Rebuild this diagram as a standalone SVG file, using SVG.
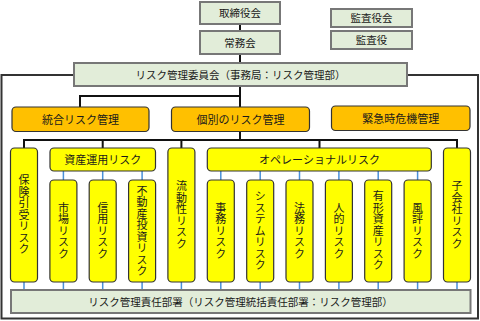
<svg xmlns="http://www.w3.org/2000/svg" width="480" height="321" viewBox="0 0 480 321">
<style>
text{font-family:"Noto Sans CJK JP","Noto Sans",sans-serif;fill:#1a1a1a;}
.g{fill:#e2edd9;stroke:#777;stroke-width:2;}
.o{fill:#ffc000;stroke:#333;stroke-width:1.2;}
.y{fill:#ffff00;stroke:#333;stroke-width:1.2;}
.t{font-size:10.5px;text-anchor:middle;}
.h{font-size:11px;text-anchor:middle;}
.v{font-size:11px;text-anchor:middle;writing-mode:vertical-rl;letter-spacing:0.5px;}
.k{stroke:#111;stroke-width:2;fill:none;}
.b{stroke:#4a90d9;stroke-width:1.5;fill:none;}
</style>
<rect x="1.5" y="75" width="476.5" height="243.5" fill="#fff" stroke="#333" stroke-width="2"/>
<g id="connectors">
<path class="k" d="M240 24V31M240 54V63M240 86V107M80 107V96H240M240 132V140M24 148V140H457V148M102.7 140V148M181.4 140V148M319.5 140V148"/>
<path class="b" d="M63.4 171V180M102.7 171V180M142.1 171V180M220.8 171V180M260.2 171V180M299.5 171V180M338.9 171V180M378.2 171V180M417.6 171V180"/>
<path class="b" d="M24 282V290M63.4 282V290M102.7 282V290M142.1 282V290M181.4 282V290M220.8 282V290M260.2 282V290M299.5 282V290M338.9 282V290M378.2 282V290M417.6 282V290M457 282V290"/>
</g>
<g id="torishimariyakukai"><rect class="g" x="200" y="2" width="80" height="22"/><text class="t" x="240" y="17">取締役会</text></g>
<g id="joumukai"><rect class="g" x="200" y="31" width="80" height="23"/><text class="t" x="240" y="46.5">常務会</text></g>
<g id="kansayakukai"><rect class="g" x="331" y="9" width="81" height="18"/><text class="t" x="371.5" y="22">監査役会</text></g>
<g id="kansayaku"><rect class="g" x="331" y="31" width="81" height="18"/><text class="t" x="371.5" y="44">監査役</text></g>
<g id="committee"><rect class="g" x="74" y="63" width="333" height="23"/><text class="t" x="240.5" y="78.5">リスク管理委員会（事務局：リスク管理部）</text></g>
<g id="tougou"><rect class="o" x="12" y="107" width="137" height="24.5" rx="4"/><text class="h" x="80.5" y="123.5">統合リスク管理</text></g>
<g id="kobetsu"><rect class="o" x="171.5" y="107" width="138" height="24.5" rx="4"/><text class="h" x="240.5" y="123.5">個別のリスク管理</text></g>
<g id="kinkyu"><rect class="o" x="331.5" y="106" width="138.5" height="24.5" rx="4"/><text class="h" x="400.7" y="122.5">緊急時危機管理</text></g>
<g id="hoken"><rect class="y" x="10.5" y="148" width="27" height="134" rx="4"/><text class="v" x="24" y="215">保険引受リスク</text></g>
<g id="shisan"><rect class="y" x="50" y="148" width="105.5" height="23" rx="4"/><text class="h" x="102.7" y="163.5">資産運用リスク</text></g>
<g id="shijou"><rect class="y" x="49.9" y="180" width="27" height="102" rx="4"/><text class="v" x="63.4" y="231">市場リスク</text></g>
<g id="shinyou"><rect class="y" x="89.2" y="180" width="27" height="102" rx="4"/><text class="v" x="102.7" y="231">信用リスク</text></g>
<g id="fudousan"><rect class="y" x="128.6" y="180" width="27" height="102" rx="4"/><text class="v" x="142.1" y="231">不動産投資リスク</text></g>
<g id="ryudousei"><rect class="y" x="167.9" y="148" width="27" height="134" rx="4"/><text class="v" x="181.4" y="215">流動性リスク</text></g>
<g id="operational"><rect class="y" x="207.3" y="148" width="224" height="23" rx="4"/><text class="h" x="319.5" y="163.5">オペレーショナルリスク</text></g>
<g id="jimu"><rect class="y" x="207.3" y="180" width="27" height="102" rx="4"/><text class="v" x="220.8" y="231">事務リスク</text></g>
<g id="system"><rect class="y" x="246.7" y="180" width="27" height="102" rx="4"/><text class="v" x="260.2" y="231">システムリスク</text></g>
<g id="houmu"><rect class="y" x="286" y="180" width="27" height="102" rx="4"/><text class="v" x="299.5" y="231">法務リスク</text></g>
<g id="jinteki"><rect class="y" x="325.4" y="180" width="27" height="102" rx="4"/><text class="v" x="338.9" y="231">人的リスク</text></g>
<g id="yukei"><rect class="y" x="364.7" y="180" width="27" height="102" rx="4"/><text class="v" x="378.2" y="231">有形資産リスク</text></g>
<g id="fuhyou"><rect class="y" x="404.1" y="180" width="27" height="102" rx="4"/><text class="v" x="417.6" y="231">風評リスク</text></g>
<g id="kogaisha"><rect class="y" x="443.5" y="148" width="27" height="134" rx="4"/><text class="v" x="457" y="215">子会社リスク</text></g>
<g id="sekinin"><rect class="g" x="11" y="290" width="459.5" height="23"/><text class="t" x="240.5" y="305.5">リスク管理責任部署（リスク管理統括責任部署：リスク管理部）</text></g>
</svg>
